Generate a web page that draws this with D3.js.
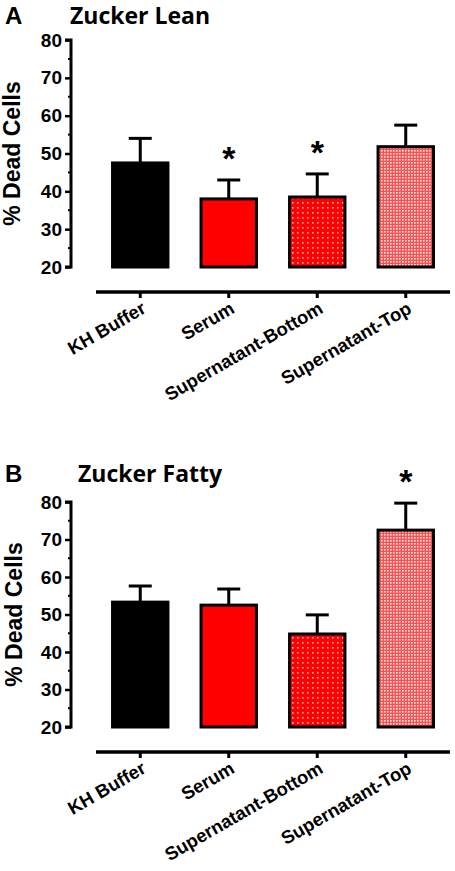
<!DOCTYPE html>
<html><head><meta charset="utf-8">
<script src="https://cdn.jsdelivr.net/npm/d3@7"></script>
<style>body{margin:0;background:#fff}svg{display:block}</style>
</head><body>
<svg id="c" width="455" height="871"></svg>
<script>
const categories = ["KH Buffer","Serum","Supernatant-Bottom","Supernatant-Top"];
const leanMeans = [47.5, 38.0, 38.5, 51.8];
const leanErr = [6.5, 5.0, 6.1, 5.7];
const leanSig = [false, true, true, false];
const fattyMeans = [53.3, 52.5, 44.8, 72.5];
const fattyErr = [4.3, 4.3, 5.1, 7.2];
const fattySig = [false, false, false, true];
const yTicks = [20, 30, 40, 50, 60, 70, 80];
const yMinor = [25, 35, 45, 55, 65, 75];
const fills = ["#000", "#ff0000", "url(#dots)", "url(#check)"];

const svg = d3.select("#c");
const defs = svg.append("defs");
const pd = defs.append("pattern").attr("id","dots").attr("patternUnits","userSpaceOnUse").attr("width",5).attr("height",5);
pd.append("rect").attr("width",5).attr("height",5).attr("fill","#ff0000");
pd.append("rect").attr("x",2).attr("y",2).attr("width",1.6).attr("height",1.6).attr("fill","#ffb0b0");
const pc = defs.append("pattern").attr("id","check").attr("patternUnits","userSpaceOnUse").attr("width",3).attr("height",3);
pc.append("rect").attr("width",3).attr("height",3).attr("fill","#ff5050");
pc.append("rect").attr("x",0).attr("y",0).attr("width",1.6).attr("height",1.6).attr("fill","#ffe8e8");

const x = d3.scaleBand().domain(categories).range([96, 450]).paddingInner(0.34).paddingOuter(0.17);

function panel(o){
  const g = svg.append("g");
  const y = d3.scaleLinear().domain([20, 80]).range([o.bottom, o.top]);
  g.append("text").attr("x",5).attr("y",o.titleY).text(o.letter)
    .style("font-family","Liberation Sans, Arial, sans-serif").style("font-weight","bold").style("font-size","24px");
  g.append("text").attr("x",o.titleX).attr("y",o.titleY).text(o.title)
    .style("font-family","'Open Sans', 'Noto Sans', sans-serif").style("font-weight","700").style("font-size","23px");
  g.append("text").attr("transform",`translate(${o.ylabX},${(o.top+o.bottom)/2}) rotate(-90)`)
    .attr("text-anchor","middle").attr("dominant-baseline","middle").text("% Dead Cells")
    .style("font-family","Liberation Sans, Arial, sans-serif").style("font-weight","bold").style("font-size","23px");
  const ya = g.append("g").attr("transform","translate(71,0)")
    .call(d3.axisLeft(y).tickValues(yTicks).tickSize(6).tickPadding(3).tickFormat(d3.format("d")));
  ya.select(".domain").attr("stroke","#000").attr("stroke-width",3).attr("d",`M-6,${y(80)}H0V${y(20)}H-6`);
  ya.selectAll(".tick line").attr("stroke-width",2.5);
  ya.selectAll(".tick text").style("font-family","Liberation Sans, Arial, sans-serif").style("font-weight","bold").style("font-size","19px").attr("fill","#000");
  g.append("g").attr("transform","translate(71,0)").selectAll("line").data(yMinor).join("line")
    .attr("x1",-3).attr("x2",0).attr("y1",d=>y(d)).attr("y2",d=>y(d)).attr("stroke","#000").attr("stroke-width",2);
  const cap = 23;
  g.selectAll(".err").data(categories).join("g").each(function(c,i){
    const cx = x(c) + x.bandwidth()/2;
    const top = y(o.means[i] + o.errs[i]);
    d3.select(this).append("line").attr("x1",cx).attr("x2",cx).attr("y1",y(o.means[i])).attr("y2",top).attr("stroke","#000").attr("stroke-width",3);
    d3.select(this).append("line").attr("x1",cx-cap/2).attr("x2",cx+cap/2).attr("y1",top).attr("y2",top).attr("stroke","#000").attr("stroke-width",3);
  });
  g.selectAll(".bar").data(categories).join("rect")
    .attr("x",d=>x(d)+1.5).attr("width",x.bandwidth()-3)
    .attr("y",(d,i)=>y(o.means[i])).attr("height",(d,i)=>y(20)-y(o.means[i]))
    .attr("fill",(d,i)=>fills[i]).attr("stroke","#000").attr("stroke-width",3);
  g.selectAll(".sig").data(categories.filter((c,i)=>o.sig[i])).join("text")
    .attr("x",d=>x(d)+x.bandwidth()/2)
    .attr("y",d=>{const i=categories.indexOf(d);return y(o.means[i]+o.errs[i]) - 10;})
    .attr("text-anchor","middle").text("*")
    .style("font-family","Liberation Sans, Arial, sans-serif").style("font-weight","bold").style("font-size","34px");
  const xa = g.append("g").attr("transform",`translate(0,${o.xAxisY})`)
    .call(d3.axisBottom(x).tickSize(6).tickPadding(4));
  xa.select(".domain").attr("stroke-width",3.5).attr("d","M96,0H450");
  xa.selectAll(".tick line").attr("stroke-width",3);
  xa.selectAll(".tick text").attr("text-anchor","end").attr("dy",0).attr("y",0)
    .attr("transform","translate(7,20) rotate(-30)")
    .style("font-family","Liberation Sans, Arial, sans-serif").style("font-weight","bold").style("font-size","18.5px").attr("fill","#000");
}

panel({letter:"A", title:"Zucker Lean", titleX:70, titleY:24, top:40, bottom:267, xAxisY:292, ylabX:14,
  means:leanMeans, errs:leanErr, sig:leanSig});
panel({letter:"B", title:"Zucker Fatty", titleX:78, titleY:482, top:502, bottom:727, xAxisY:752, ylabX:16,
  means:fattyMeans, errs:fattyErr, sig:fattySig});
</script>
</body></html>
